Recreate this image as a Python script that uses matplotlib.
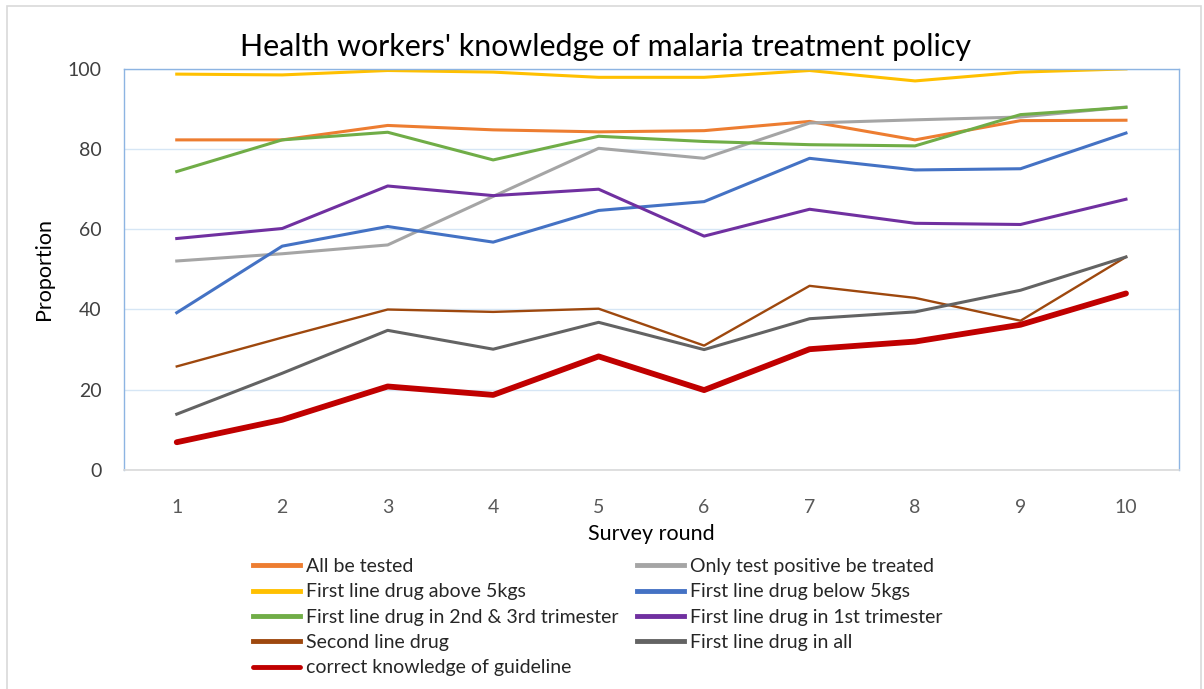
import matplotlib
matplotlib.use("Agg")
import matplotlib.pyplot as plt
from matplotlib.patches import Rectangle

plt.rcParams['font.family'] = ['Lato', 'DejaVu Sans']

rounds = [1, 2, 3, 4, 5, 6, 7, 8, 9, 10]

all_tested = [82.3, 82.3, 85.9, 84.8, 84.3, 84.6, 86.9, 82.3, 87.1, 87.2]
only_positive = [52.1, 53.9, 56.1, 68.2, 80.2, 77.7, 86.5, 87.3, 88.0, 90.5]
above_5kg = [98.7, 98.5, 99.6, 99.2, 97.9, 97.9, 99.6, 97.0, 99.2, 100.0]
below_5kg = [39.2, 55.8, 60.7, 56.8, 64.7, 66.9, 77.7, 74.8, 75.1, 84.0]
trim_23 = [74.4, 82.3, 84.2, 77.3, 83.2, 81.9, 81.1, 80.8, 88.6, 90.4]
trim_1 = [57.7, 60.2, 70.8, 68.4, 70.0, 58.3, 65.0, 61.5, 61.2, 67.5]
second_line = [25.8, 33.0, 40.0, 39.4, 40.2, 31.0, 45.9, 42.9, 37.2, 53.1]
first_all = [13.9, 24.1, 34.8, 30.1, 36.8, 30.0, 37.7, 39.4, 44.8, 53.1]
correct = [6.9, 12.5, 20.8, 18.7, 28.3, 19.9, 30.1, 32.0, 36.2, 44.0]

fig = plt.figure(figsize=(12.04, 6.89), dpi=100)
ax = fig.add_axes([0.103, 0.318, 0.876, 0.582])

# chart outline
fig.patches.append(Rectangle((7 / 1204, -0.01), 1194 / 1204, 1 - 6 / 689 + 0.01,
                             transform=fig.transFigure, fill=False,
                             edgecolor='#D9D9D9', lw=1.2))

l1, = ax.plot(rounds, all_tested, color='#ED7D31', lw=2.2)
l2, = ax.plot(rounds, only_positive, color='#A5A5A5', lw=2.2)
l3, = ax.plot(rounds, above_5kg, color='#FFC000', lw=2.2)
l4, = ax.plot(rounds, below_5kg, color='#4472C4', lw=2.2)
l5, = ax.plot(rounds, trim_23, color='#70AD47', lw=2.2)
l6, = ax.plot(rounds, trim_1, color='#7030A0', lw=2.2)
l7, = ax.plot(rounds, second_line, color='#9E480E', lw=1.7)
l8, = ax.plot(rounds, first_all, color='#636363', lw=2.2)
l9, = ax.plot(rounds, correct, color='#C00000', lw=4.2, solid_capstyle='round')

ax.set_xlim(0.5, 10.5)
ax.set_ylim(0, 100)
ax.set_xticks(rounds)
ax.set_yticks([0, 20, 40, 60, 80, 100])
ax.grid(axis='y', color='#D6E6F5', lw=1)
ax.set_axisbelow(True)
ax.tick_params(length=0)
ax.tick_params(axis='x', pad=21, labelsize=14, labelcolor='#595959')
ax.tick_params(axis='y', pad=16, labelsize=14, labelcolor='#404040')
for s in ['left', 'top', 'right']:
    ax.spines[s].set_color('#8DB4E2')
    ax.spines[s].set_linewidth(1)
ax.spines['bottom'].set_color('#D9D9D9')
ax.spines['bottom'].set_linewidth(1.2)

fig.text(606 / 1204, 1 - 47 / 689,
         "Health workers' knowledge of malaria treatment policy",
         fontsize=21.9, color='#000000', ha='center', va='center')
ax.set_xlabel('Survey round', fontsize=15.5, color='#000000', labelpad=6)
ax.set_ylabel('Proportion', fontsize=15.5, color='#000000', labelpad=10)

handles = [l1, l3, l5, l7, l9, l2, l4, l6, l8]
labels = ['All be tested', 'First line drug above 5kgs',
          'First line drug in 2nd & 3rd trimester', 'Second line drug',
          'correct knowledge of guideline', 'Only test positive be treated',
          'First line drug below 5kgs', 'First line drug in 1st trimester',
          'First line drug in all']
leg = fig.legend(handles, labels, ncol=2, loc='upper left',
                 bbox_to_anchor=(253 / 1204, 1 - 558 / 689), frameon=False,
                 fontsize=14, handlelength=2.4, handletextpad=0.3,
                 columnspacing=1.0, labelspacing=0.43, borderpad=0,
                 borderaxespad=0)
for t in leg.get_texts():
    t.set_color('#262626')
for h in leg.legend_handles:
    h.set_linewidth(3.5)

fig.savefig('out.png', dpi=100)
